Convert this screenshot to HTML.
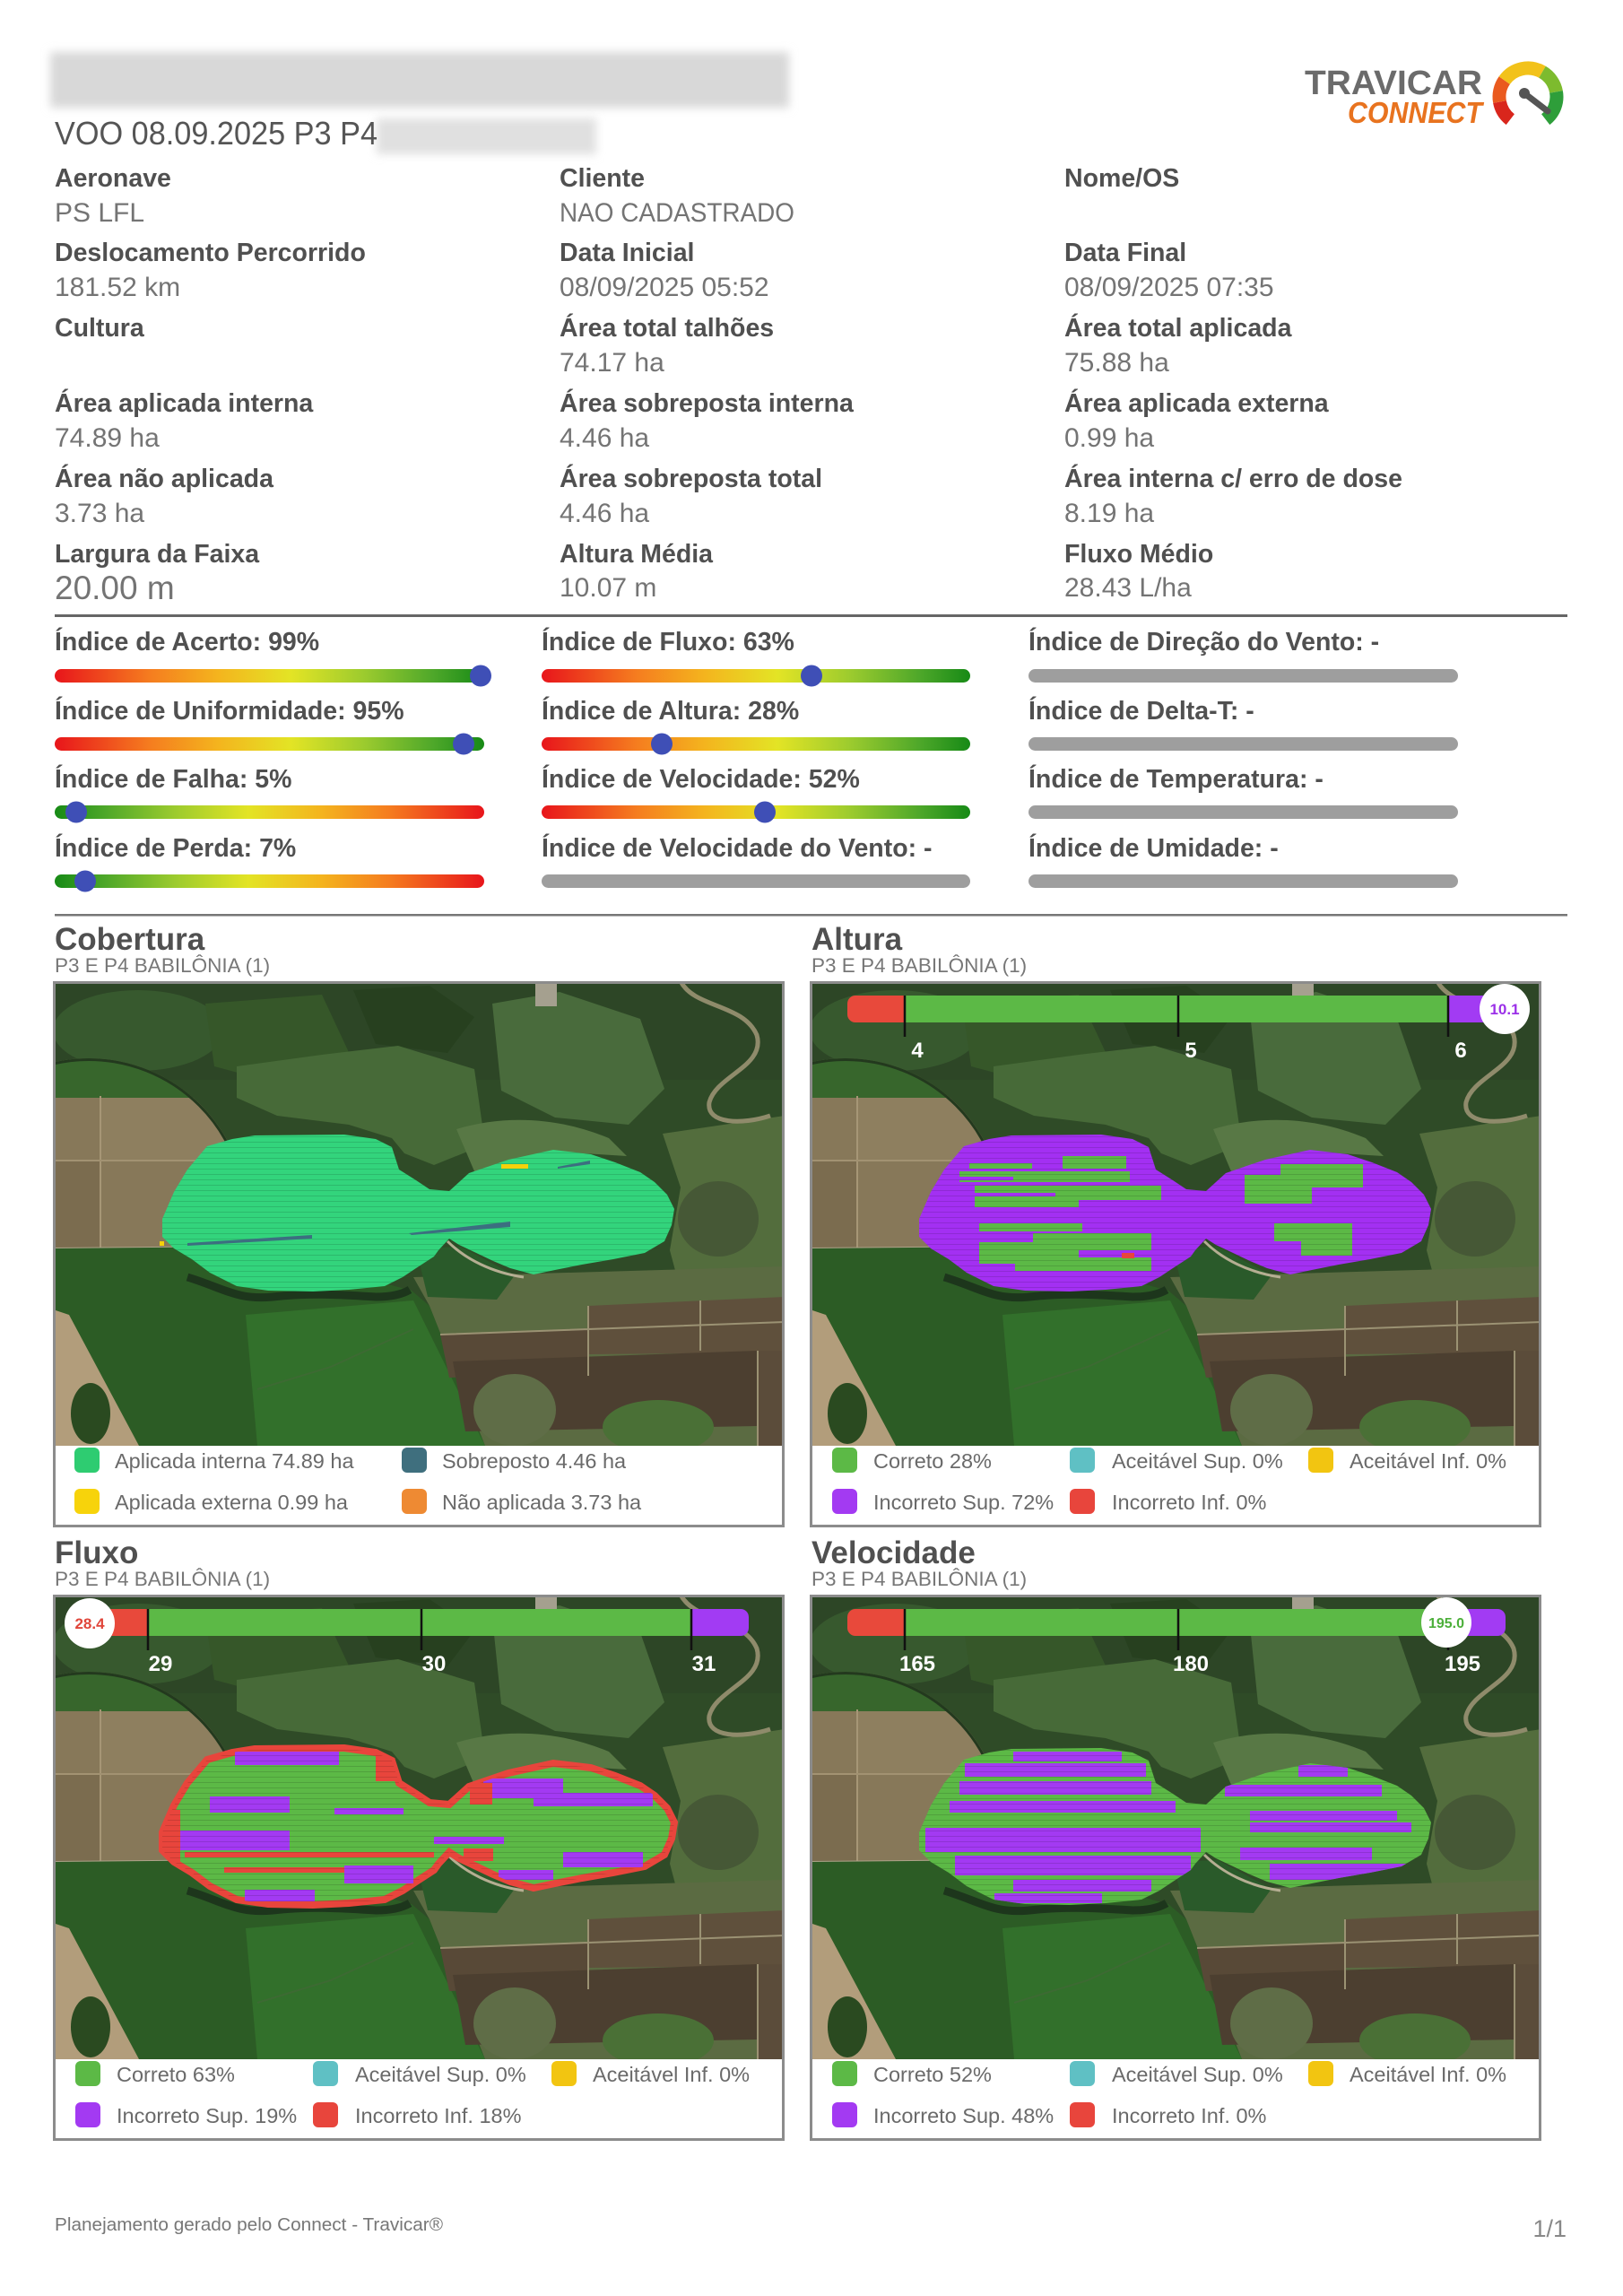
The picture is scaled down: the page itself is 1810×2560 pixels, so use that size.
<!DOCTYPE html>
<html><head><meta charset="utf-8"><title>Relatório</title>
<style>
html,body{margin:0;padding:0;background:#fff;}
svg{display:block;}
</style></head>
<body>
<svg width="1810" height="2560" viewBox="0 0 1810 2560" xmlns="http://www.w3.org/2000/svg" font-family="'Liberation Sans', sans-serif">
<defs>
  <filter id="blur" x="-10%" y="-30%" width="120%" height="160%"><feGaussianBlur stdDeviation="5"/></filter>
  <linearGradient id="gGood" x1="0" x2="1" y1="0" y2="0">
    <stop offset="0" stop-color="#e8151b"/><stop offset="0.22" stop-color="#f57c1f"/><stop offset="0.38" stop-color="#f4b41e"/>
    <stop offset="0.55" stop-color="#e3e425"/><stop offset="0.72" stop-color="#9ccb2e"/><stop offset="0.88" stop-color="#4fa82a"/><stop offset="1" stop-color="#178a16"/>
  </linearGradient>
  <linearGradient id="gBad" x1="0" x2="1" y1="0" y2="0">
    <stop offset="0" stop-color="#178a16"/><stop offset="0.12" stop-color="#4fa82a"/><stop offset="0.28" stop-color="#9ccb2e"/>
    <stop offset="0.45" stop-color="#e3e425"/><stop offset="0.62" stop-color="#f4b41e"/><stop offset="0.78" stop-color="#f57c1f"/><stop offset="1" stop-color="#e8151b"/>
  </linearGradient>
  <pattern id="stripes" width="10" height="6" patternUnits="userSpaceOnUse"><rect y="5" width="10" height="1" fill="rgba(0,0,0,0.13)"/></pattern>
  <clipPath id="tanclip"><rect x="0" y="0" width="816" height="298"/></clipPath>
  <clipPath id="circclip"><circle cx="40" cy="262" r="176"/></clipPath>
  <clipPath id="barclip"><rect x="42" y="16" width="734" height="30" rx="9"/></clipPath>
  <path id="blobp" d="M122,265 L135,235 L150,210 L172,184 L200,176 L225,172 L325,171 L360,176 L378,185 L386,210 L405,222 L420,232 L442,234 L464,214 L508,199 L558,188 L600,193 L627,202 L655,213 L671,224 L685,238 L693,254 L690,272 L682,290 L660,303 L625,310 L590,316 L560,322 L536,327 L510,320 L491,312 L470,302 L453,294 L442,287 L430,300 L425,307 L405,320 L390,330 L370,340 L330,344 L290,346 L240,345 L205,340 L175,325 L155,310 L135,298 L122,285 Z"/>
  <clipPath id="blobclip"><use href="#blobp"/></clipPath>
  <g id="bg">
    <rect width="816" height="518" fill="#2f4b27"/>
    <rect width="816" height="110" fill="#2d4626"/>
    <ellipse cx="95" cy="55" rx="95" ry="45" fill="#37592e"/>
    <path d="M170,25 L300,15 L335,90 L255,115 L180,95Z" fill="#365729"/>
    <path d="M335,10 L420,5 L470,40 L440,80 L360,70Z" fill="#27401f"/>
    <path d="M205,95 L300,82 L385,72 L470,98 L482,182 L425,205 L392,192 L378,175 L330,160 L250,150 L205,130Z" fill="#476a38"/>
    <path d="M490,25 L565,12 L655,42 L682,120 L642,160 L560,152 L500,122Z" fill="#496b3c"/>
    <path d="M680,170 L816,150 L816,365 L700,345 L688,300 L700,230Z" fill="#536d3d"/>
    <ellipse cx="742" cy="265" rx="45" ry="42" fill="#465836"/>
    <path d="M700,0 C715,30 770,25 785,60 C795,95 740,105 732,135 C728,160 770,160 800,150" stroke="#8f8b6b" stroke-width="5" fill="none"/>
    <path d="M450,165 C500,150 560,150 620,175 L640,195 L560,190 L470,212Z" fill="#587845"/>
    <g clip-path="url(#tanclip)"><g clip-path="url(#circclip)">
      <rect x="0" y="0" width="220" height="298" fill="#877859"/>
      <rect x="0" y="200" width="53" height="98" fill="#7b6c4f"/>
      <rect x="53" y="128" width="170" height="72" fill="#8e7f5f"/>
      <rect x="0" y="80" width="220" height="50" fill="#37662c"/>
      <line x1="53" y1="128" x2="53" y2="298" stroke="#a69676" stroke-width="2"/>
      <line x1="0" y1="200" x2="220" y2="200" stroke="#a29272" stroke-width="2"/>
      <circle cx="40" cy="262" r="175" fill="none" stroke="#23391e" stroke-width="4"/>
    </g></g>
    <line x1="0" y1="298" x2="225" y2="296" stroke="#aea38a" stroke-width="2"/>
    <path d="M0,298 L225,296 L300,318 L400,345 L420,362 L482,518 L0,518Z" fill="#2c5c25"/>
    <path d="M215,372 L402,356 L482,518 L228,518Z" fill="#32702b"/>
    <path d="M0,366 L18,372 L96,518 L0,518Z" fill="#b29d7b"/>
    <ellipse cx="42" cy="482" rx="22" ry="34" fill="#2a4a20"/>
    <path d="M150,330 C190,342 205,356 245,352 C290,347 330,350 360,352 C375,352 388,350 398,344" stroke="#1d361c" stroke-width="9" fill="none"/>
    <path d="M228,455 L310,430 L402,388" stroke="#3d6a33" stroke-width="2" fill="none"/>
    <path d="M402,330 L816,318 L816,518 L482,518 L420,362Z" fill="#5b6b42"/>
    <path d="M405,298 L455,296 L515,328 L495,355 L418,352Z" fill="#2a5a2a"/>
    <path d="M440,290 C460,310 490,325 525,330" stroke="#b5ae92" stroke-width="3" fill="none"/>
    <path d="M597,362 L816,352 L816,414 L597,416Z" fill="#5f503c"/>
    <path d="M432,394 L597,388 L597,436 L442,442Z" fill="#584937"/>
    <path d="M446,424 L786,412 L786,496 L460,502Z" fill="#4c3f30"/>
    <rect x="786" y="412" width="30" height="106" fill="#5b4c3a"/>
    <ellipse cx="515" cy="478" rx="46" ry="40" fill="#5f6d47"/>
    <ellipse cx="675" cy="497" rx="62" ry="30" fill="#4a7036"/>
    <path d="M597,362 V440 M722,356 V412 M786,412 V518 M432,394 L816,380" stroke="#9b9273" stroke-width="2" fill="none"/>
    <rect x="538" y="0" width="24" height="28" fill="#a5a08f"/>
  </g>
  <g id="scalebar">
    <g clip-path="url(#barclip)">
      <rect x="42" y="16" width="64" height="30" fill="#e8493b"/>
      <rect x="106" y="16" width="606" height="30" fill="#5cb946"/>
      <rect x="712" y="16" width="64" height="30" fill="#a23bf3"/>
    </g>
    <path d="M106,16V62M411,16V62M712,16V62" stroke="#111" stroke-width="2.5"/>
  </g>
</defs>

<!-- Header -->
<rect x="56" y="58" width="824" height="62" fill="#d8d8d8" filter="url(#blur)"/>
<rect x="420" y="132" width="245" height="40" fill="#e0e0e0" filter="url(#blur)"/>
<text x="61" y="161" font-size="36" fill="#555" textLength="360" lengthAdjust="spacingAndGlyphs">VOO 08.09.2025 P3 P4</text>

<!-- Logo -->
<text x="1455" y="105" font-size="38" font-weight="bold" fill="#6b6b6b" textLength="198" lengthAdjust="spacingAndGlyphs">TRAVICAR</text>
<text x="1503" y="137" font-size="33" font-weight="bold" font-style="italic" fill="#e8731f" textLength="150" lengthAdjust="spacingAndGlyphs">CONNECT</text>
<g fill="none" stroke-width="15">
  <path d="M1684.3,133.2 A32,32 0 0 1 1672.5,113.6" stroke="#d9261c"/>
  <path d="M1672.5,113.6 A32,32 0 0 1 1677.8,89.6" stroke="#ea5a1e"/>
  <path d="M1677.8,89.6 A32,32 0 0 1 1720,80.3" stroke="#f2c21a"/>
  <path d="M1720,80.3 A32,32 0 0 1 1735.5,102.4" stroke="#7dbb2e"/>
  <path d="M1735.5,102.4 A32,32 0 0 1 1723.7,133.2" stroke="#2e9e3a"/>
</g>
<line x1="1700" y1="104" x2="1726" y2="124" stroke="#555" stroke-width="7" stroke-linecap="round"/>
<circle cx="1700" cy="104" r="6" fill="#555"/>

<!-- Info grid -->
<g font-size="28.5" font-weight="bold" fill="#505050">
  <text x="61" y="208">Aeronave</text>
  <text x="61" y="291">Deslocamento Percorrido</text>
  <text x="61" y="375">Cultura</text>
  <text x="61" y="459">Área aplicada interna</text>
  <text x="61" y="543">Área não aplicada</text>
  <text x="61" y="627">Largura da Faixa</text>
  <text x="624" y="208">Cliente</text>
  <text x="624" y="291">Data Inicial</text>
  <text x="624" y="375">Área total talhões</text>
  <text x="624" y="459">Área sobreposta interna</text>
  <text x="624" y="543">Área sobreposta total</text>
  <text x="624" y="627">Altura Média</text>
  <text x="1187" y="208">Nome/OS</text>
  <text x="1187" y="291">Data Final</text>
  <text x="1187" y="375">Área total aplicada</text>
  <text x="1187" y="459">Área aplicada externa</text>
  <text x="1187" y="543">Área interna c/ erro de dose</text>
  <text x="1187" y="627">Fluxo Médio</text>
</g>
<g font-size="30" fill="#747474">
  <text x="61" y="247">PS LFL</text>
  <text x="61" y="330">181.52 km</text>
  <text x="61" y="498">74.89 ha</text>
  <text x="61" y="582">3.73 ha</text>
  <text x="61" y="668" font-size="37">20.00 m</text>
  <text x="624" y="247" textLength="262" lengthAdjust="spacingAndGlyphs">NAO CADASTRADO</text>
  <text x="624" y="330">08/09/2025 05:52</text>
  <text x="624" y="414">74.17 ha</text>
  <text x="624" y="498">4.46 ha</text>
  <text x="624" y="582">4.46 ha</text>
  <text x="624" y="665">10.07 m</text>
  <text x="1187" y="330">08/09/2025 07:35</text>
  <text x="1187" y="414">75.88 ha</text>
  <text x="1187" y="498">0.99 ha</text>
  <text x="1187" y="582">8.19 ha</text>
  <text x="1187" y="665">28.43 L/ha</text>
</g>
<rect x="61" y="685" width="1687" height="3" fill="#666"/>

<!-- Indices -->
<g font-size="28.5" font-weight="bold" fill="#505050">
  <text x="61" y="725">Índice de Acerto: 99%</text>
  <text x="61" y="802">Índice de Uniformidade: 95%</text>
  <text x="61" y="878">Índice de Falha: 5%</text>
  <text x="61" y="955">Índice de Perda: 7%</text>
  <text x="604" y="725">Índice de Fluxo: 63%</text>
  <text x="604" y="802">Índice de Altura: 28%</text>
  <text x="604" y="878">Índice de Velocidade: 52%</text>
  <text x="604" y="955">Índice de Velocidade do Vento: -</text>
  <text x="1147" y="725">Índice de Direção do Vento: -</text>
  <text x="1147" y="802">Índice de Delta-T: -</text>
  <text x="1147" y="878">Índice de Temperatura: -</text>
  <text x="1147" y="955">Índice de Umidade: -</text>
</g>
<rect x="61" y="746" width="479" height="15" rx="7.5" fill="url(#gGood)"/>
<rect x="61" y="822" width="479" height="15" rx="7.5" fill="url(#gGood)"/>
<rect x="61" y="898" width="479" height="15" rx="7.5" fill="url(#gBad)"/>
<rect x="61" y="975" width="479" height="15" rx="7.5" fill="url(#gBad)"/>
<rect x="604" y="746" width="478" height="15" rx="7.5" fill="url(#gGood)"/>
<rect x="604" y="822" width="478" height="15" rx="7.5" fill="url(#gGood)"/>
<rect x="604" y="898" width="478" height="15" rx="7.5" fill="url(#gGood)"/>
<rect x="604" y="975" width="478" height="15" rx="7.5" fill="#9e9e9e"/>
<rect x="1147" y="746" width="479" height="15" rx="7.5" fill="#9e9e9e"/>
<rect x="1147" y="822" width="479" height="15" rx="7.5" fill="#9e9e9e"/>
<rect x="1147" y="898" width="479" height="15" rx="7.5" fill="#9e9e9e"/>
<rect x="1147" y="975" width="479" height="15" rx="7.5" fill="#9e9e9e"/>
<g fill="#3f4fb6">
  <circle cx="536" cy="753.5" r="12"/>
  <circle cx="517" cy="829.5" r="12"/>
  <circle cx="85" cy="905.5" r="12"/>
  <circle cx="95" cy="982.5" r="12"/>
  <circle cx="905" cy="753.5" r="12"/>
  <circle cx="738" cy="829.5" r="12"/>
  <circle cx="853" cy="905.5" r="12"/>
</g>
<rect x="61" y="1019" width="1687" height="2.5" fill="#777"/>

<!-- Section titles -->
<g font-size="35" font-weight="bold" fill="#505050">
  <text x="61" y="1059">Cobertura</text>
  <text x="905" y="1059">Altura</text>
  <text x="61" y="1743">Fluxo</text>
  <text x="905" y="1743">Velocidade</text>
</g>
<g font-size="22.5" fill="#777">
  <text x="61" y="1084">P3 E P4 BABILÔNIA (1)</text>
  <text x="905" y="1084">P3 E P4 BABILÔNIA (1)</text>
  <text x="61" y="1768">P3 E P4 BABILÔNIA (1)</text>
  <text x="905" y="1768">P3 E P4 BABILÔNIA (1)</text>
</g>

<!-- Map: Cobertura -->
<svg x="59" y="1094" width="816" height="518" viewBox="0 0 816 518">
  <use href="#bg"/>
  <use href="#blobp" fill="#33d47c"/>
  <use href="#blobp" fill="url(#stripes)"/>
  <g clip-path="url(#blobclip)" fill="#3c6f80">
    <path d="M150,292 L289,283 L289,287 L150,295Z"/>
    <path d="M397,281 L510,268 L510,274 L400,283Z"/>
    <path d="M563,207 L599,200 L599,204 L563,209Z"/>
  </g>
  <rect x="500" y="204" width="30" height="5" fill="#f5d20a"/>
  <rect x="119" y="290" width="5" height="5" fill="#f5d20a"/>
</svg>

<!-- Map: Altura -->
<svg x="903" y="1094" width="816" height="518" viewBox="0 0 816 518">
  <use href="#bg"/>
  <use href="#blobp" fill="#a330f2"/>
  <g clip-path="url(#blobclip)">
    <g fill="#5cb946">
      <rect x="282" y="195" width="71" height="14"/>
      <rect x="178" y="203" width="70" height="6"/>
      <rect x="167" y="212" width="190" height="12"/>
      <rect x="184" y="228" width="208" height="24"/>
      <rect x="189" y="270" width="115" height="9"/>
      <rect x="189" y="281" width="192" height="42"/>
      <rect x="485" y="204" width="132" height="44"/>
      <rect x="518" y="270" width="87" height="36"/>
    </g>
    <g fill="#a330f2">
      <rect x="184" y="236" width="90" height="4"/>
      <rect x="300" y="244" width="92" height="8"/>
      <rect x="189" y="281" width="60" height="10"/>
      <rect x="300" y="300" width="81" height="8"/>
      <rect x="189" y="315" width="40" height="8"/>
      <rect x="485" y="204" width="40" height="12"/>
      <rect x="560" y="230" width="57" height="18"/>
      <rect x="518" y="290" width="30" height="16"/>
      <rect x="167" y="218" width="60" height="4"/>
    </g>
  </g>
  <use href="#blobp" fill="url(#stripes)"/>
  <rect x="348" y="303" width="14" height="6" fill="#e8453c"/>
  <use href="#scalebar"/>
  <g font-size="24" font-weight="bold" fill="#fff" text-anchor="middle">
    <text x="120" y="85">4</text><text x="425" y="85">5</text><text x="726" y="85">6</text>
  </g>
  <circle cx="775" cy="31" r="28" fill="#fff"/>
  <text x="775" y="37" font-size="17" font-weight="bold" fill="#9b30e8" text-anchor="middle">10.1</text>
</svg>

<!-- Map: Fluxo -->
<svg x="59" y="1778" width="816" height="518" viewBox="0 0 816 518">
  <use href="#bg"/>
  <use href="#blobp" fill="#5cb946" stroke="#e8453c" stroke-width="8"/>
  <g clip-path="url(#blobclip)">
    <g fill="#a33af2">
      <rect x="203" y="175" width="116" height="15"/>
      <rect x="175" y="225" width="89" height="18"/>
      <rect x="314" y="238" width="77" height="7"/>
      <rect x="142" y="263" width="122" height="22"/>
      <rect x="325" y="302" width="77" height="20"/>
      <rect x="214" y="329" width="78" height="13"/>
      <rect x="480" y="205" width="89" height="22"/>
      <rect x="536" y="221" width="133" height="15"/>
      <rect x="425" y="270" width="78" height="8"/>
      <rect x="569" y="287" width="89" height="17"/>
      <rect x="497" y="307" width="61" height="11"/>
    </g>
    <g fill="#e8453c">
      <rect x="147" y="287" width="278" height="6"/>
      <rect x="191" y="304" width="134" height="6"/>
      <rect x="120" y="240" width="22" height="60"/>
      <rect x="465" y="210" width="25" height="24"/>
      <rect x="458" y="283" width="33" height="14"/>
      <rect x="360" y="178" width="26" height="30"/>
    </g>
  </g>
  <use href="#blobp" fill="url(#stripes)"/>
  <use href="#scalebar"/>
  <g font-size="24" font-weight="bold" fill="#fff" text-anchor="middle">
    <text x="120" y="85">29</text><text x="425" y="85">30</text><text x="726" y="85">31</text>
  </g>
  <circle cx="41" cy="32" r="28" fill="#fff"/>
  <text x="41" y="38" font-size="17" font-weight="bold" fill="#e0453a" text-anchor="middle">28.4</text>
</svg>

<!-- Map: Velocidade -->
<svg x="903" y="1778" width="816" height="518" viewBox="0 0 816 518">
  <use href="#bg"/>
  <use href="#blobp" fill="#5cb946"/>
  <g clip-path="url(#blobclip)" fill="#a33af2">
    <rect x="227" y="175" width="121" height="11"/>
    <rect x="173" y="188" width="202" height="15"/>
    <rect x="167" y="208" width="214" height="15"/>
    <rect x="156" y="230" width="252" height="13"/>
    <rect x="129" y="260" width="307" height="27"/>
    <rect x="162" y="291" width="263" height="22"/>
    <rect x="227" y="318" width="154" height="13"/>
    <rect x="206" y="333" width="120" height="11"/>
    <rect x="545" y="190" width="55" height="13"/>
    <rect x="463" y="212" width="175" height="13"/>
    <rect x="491" y="241" width="164" height="11"/>
    <rect x="491" y="254" width="180" height="11"/>
    <rect x="480" y="282" width="147" height="14"/>
    <rect x="513" y="300" width="153" height="18"/>
  </g>
  <use href="#blobp" fill="url(#stripes)"/>
  <use href="#scalebar"/>
  <g font-size="24" font-weight="bold" fill="#fff" text-anchor="middle">
    <text x="120" y="85">165</text><text x="425" y="85">180</text><text x="728" y="85">195</text>
  </g>
  <circle cx="710" cy="31" r="28" fill="#fff"/>
  <text x="710" y="37" font-size="16" font-weight="bold" fill="#4caf3a" text-anchor="middle">195.0</text>
</svg>

<!-- Panel borders -->
<g fill="none" stroke="#8c8c8c" stroke-width="3">
  <rect x="60.5" y="1095.5" width="813" height="606"/>
  <rect x="904.5" y="1095.5" width="813" height="606"/>
  <rect x="60.5" y="1779.5" width="813" height="606"/>
  <rect x="904.5" y="1779.5" width="813" height="606"/>
</g>

<!-- Legends -->
<g font-size="23.5" fill="#6a6a6a">
  <rect x="83" y="1614" width="28" height="28" rx="6" fill="#2ecc71"/>
  <text x="128" y="1637">Aplicada interna 74.89 ha</text>
  <rect x="448" y="1614" width="28" height="28" rx="6" fill="#3f6f7e"/>
  <text x="493" y="1637">Sobreposto 4.46 ha</text>
  <rect x="83" y="1660" width="28" height="28" rx="6" fill="#f7d30b"/>
  <text x="128" y="1683">Aplicada externa 0.99 ha</text>
  <rect x="448" y="1660" width="28" height="28" rx="6" fill="#ee8a33"/>
  <text x="493" y="1683">Não aplicada 3.73 ha</text>

  <rect x="928" y="1614" width="28" height="28" rx="6" fill="#5cb946"/>
  <text x="974" y="1637">Correto 28%</text>
  <rect x="1193" y="1614" width="28" height="28" rx="6" fill="#5fc0c4"/>
  <text x="1240" y="1637">Aceitável Sup. 0%</text>
  <rect x="1459" y="1614" width="28" height="28" rx="6" fill="#f2c511"/>
  <text x="1505" y="1637">Aceitável Inf. 0%</text>
  <rect x="928" y="1660" width="28" height="28" rx="6" fill="#a33af2"/>
  <text x="974" y="1683">Incorreto Sup. 72%</text>
  <rect x="1193" y="1660" width="28" height="28" rx="6" fill="#e8453c"/>
  <text x="1240" y="1683">Incorreto Inf. 0%</text>

  <rect x="84" y="2298" width="28" height="28" rx="6" fill="#5cb946"/>
  <text x="130" y="2321">Correto 63%</text>
  <rect x="349" y="2298" width="28" height="28" rx="6" fill="#5fc0c4"/>
  <text x="396" y="2321">Aceitável Sup. 0%</text>
  <rect x="615" y="2298" width="28" height="28" rx="6" fill="#f2c511"/>
  <text x="661" y="2321">Aceitável Inf. 0%</text>
  <rect x="84" y="2344" width="28" height="28" rx="6" fill="#a33af2"/>
  <text x="130" y="2367">Incorreto Sup. 19%</text>
  <rect x="349" y="2344" width="28" height="28" rx="6" fill="#e8453c"/>
  <text x="396" y="2367">Incorreto Inf. 18%</text>

  <rect x="928" y="2298" width="28" height="28" rx="6" fill="#5cb946"/>
  <text x="974" y="2321">Correto 52%</text>
  <rect x="1193" y="2298" width="28" height="28" rx="6" fill="#5fc0c4"/>
  <text x="1240" y="2321">Aceitável Sup. 0%</text>
  <rect x="1459" y="2298" width="28" height="28" rx="6" fill="#f2c511"/>
  <text x="1505" y="2321">Aceitável Inf. 0%</text>
  <rect x="928" y="2344" width="28" height="28" rx="6" fill="#a33af2"/>
  <text x="974" y="2367">Incorreto Sup. 48%</text>
  <rect x="1193" y="2344" width="28" height="28" rx="6" fill="#e8453c"/>
  <text x="1240" y="2367">Incorreto Inf. 0%</text>
</g>

<!-- Footer -->
<text x="61" y="2487" font-size="20" fill="#777" textLength="433" lengthAdjust="spacingAndGlyphs">Planejamento gerado pelo Connect - Travicar®</text>
<text x="1747" y="2494" font-size="27" fill="#888" text-anchor="end">1/1</text>
</svg>
</body></html>
